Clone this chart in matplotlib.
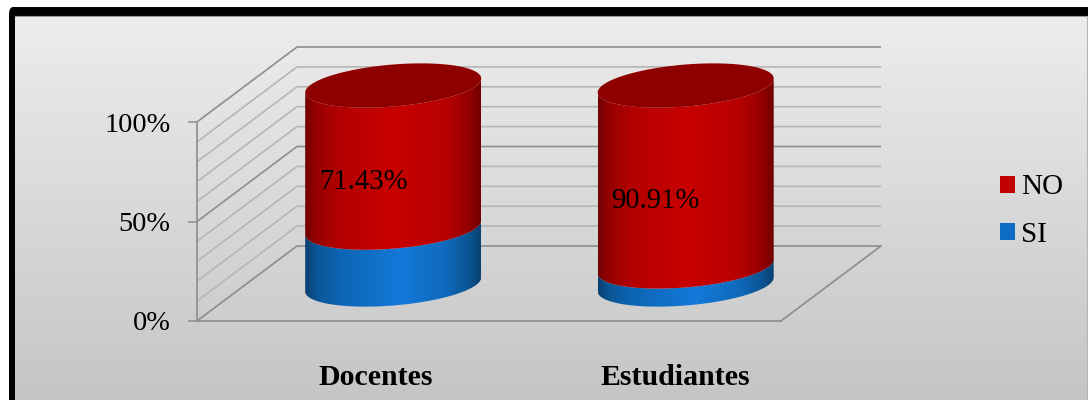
import numpy as np
import matplotlib
matplotlib.use("Agg")
import matplotlib.pyplot as plt
from matplotlib.colors import LinearSegmentedColormap
from matplotlib.patches import FancyBboxPatch, Patch, Polygon, Rectangle

categories = ["Docentes", "Estudiantes"]
si_values = [28.57, 9.09]
no_values = [71.43, 90.91]
no_labels = ["71.43%", "90.91%"]
value_ticks = [0, 50, 100]
value_tick_labels = ["0%", "50%", "100%"]
grid_values = [0, 10, 20, 30, 40, 50, 60, 70, 80, 90, 100]

# layout, in pixels of the 1088x400 picture
W, H = 1088, 400
Y0_PX, Y100_PX = 321, 122
PX = 100 / (Y0_PX - Y100_PX)  # value units per pixel
FRONT_L, FRONT_R = 197, 781
DEPTH_X, DEPTH_Y = 100, 75 * PX
BAR_CX = [393.2, 685.7]
BAR_A = 88
BAR_B = 21 * PX
BAR_SHEAR = 7 * PX
BAR_BASE = 36.5 * PX  # centre of the bottom ellipse above the zero line
LABEL_X = [376, 675]

RED = "#c00000"
BLUE = "#0d6cc4"
TOP_RED = "#8e0000"
red_cmap = LinearSegmentedColormap.from_list("r", [
    (0, "#700000"), (0.06, "#960000"), (0.2, "#b40000"), (0.5, "#c90000"),
    (0.8, "#b80000"), (0.93, "#940000"), (1, "#720000")])
blue_cmap = LinearSegmentedColormap.from_list("b", [
    (0, "#0a3f70"), (0.06, "#0b5594"), (0.2, "#0c66b4"), (0.55, "#1479da"),
    (0.8, "#0f6abc"), (0.93, "#0b5594"), (1, "#0a4272")])

plt.rcParams["font.family"] = ["Liberation Serif", "DejaVu Serif"]
fig = plt.figure(figsize=(W / 100, H / 100), dpi=100, facecolor="white")
ax = fig.add_axes([0, 0, 1, 1])
ax.patch.set_visible(False)
ylim = (-(H - Y0_PX) * PX, Y0_PX * PX)


def py(px):
    # picture row -> value scale
    return (Y0_PX - px) * PX


def ellipse(cx, level, t):
    return cx + BAR_A * np.cos(t), level + BAR_SHEAR * np.cos(t) + BAR_B * np.sin(t)


# frame and background
ax.add_patch(FancyBboxPatch((11, py(H + 20)), W + 20, py(11) - py(H + 20),
                            boxstyle="round,pad=2,rounding_size=4", fc="black", ec="none", zorder=0))
panel = Rectangle((15, py(H)), W - 16, py(15.5) - py(H), transform=ax.transData, fc="none", ec="none")
ax.add_patch(panel)
grad = np.linspace(0, 1, 256).reshape(-1, 1)
bg_cmap = LinearSegmentedColormap.from_list("bg", ["#ededed", "#c5c5c5"])
bg = ax.imshow(grad, cmap=bg_cmap, extent=(15, W - 1, py(H), py(15.5)), aspect="auto", zorder=0.5)
bg.set_clip_path(panel)
ax.plot([15, W - 1], [py(15.5)] * 2, color="#9a9a9a", lw=0.8, zorder=0.6)
ax.plot([W - 1, W - 1], [py(15.5), py(H)], color="#b5b5b5", lw=0.8, zorder=0.6)

# walls and floor
for v in grid_values:
    major = v in value_ticks
    color = "#8d8d8d" if major else "#b6b6b6"
    ax.plot([FRONT_L, FRONT_L + DEPTH_X, FRONT_R + DEPTH_X], [v, v + DEPTH_Y, v + DEPTH_Y],
            color=color, lw=1.2, zorder=1, solid_capstyle="butt")
ax.plot([FRONT_R, FRONT_R + DEPTH_X], [0, DEPTH_Y], color="#8d8d8d", lw=1.2, zorder=1)

# cylinders
t_low = np.linspace(np.pi, 2 * np.pi, 120)
t_all = np.linspace(0, 2 * np.pi, 240)
for i, cx in enumerate(BAR_CX):
    bottom = BAR_BASE
    for val, cmap in ((si_values[i], blue_cmap), (no_values[i], red_cmap)):
        top = bottom + val
        xa, ya = ellipse(cx, bottom, t_low)
        xb, yb = ellipse(cx, top, t_low[::-1])
        shape = Polygon(np.column_stack([np.r_[xa, xb], np.r_[ya, yb]]), fc="none", ec="none",
                        transform=ax.transData)
        ax.add_patch(shape)
        im = ax.imshow(np.linspace(0, 1, 256).reshape(1, -1), cmap=cmap,
                       extent=(cx - BAR_A, cx + BAR_A, bottom - 40, top + 40),
                       aspect="auto", zorder=3, interpolation="bilinear")
        im.set_clip_path(shape)
        bottom = top
    xt, yt = ellipse(cx, bottom, t_all)
    ax.fill(xt, yt, color=TOP_RED, lw=0, zorder=4)
    ax.text(cx - 30, BAR_BASE + si_values[i] + no_values[i] / 2 - 25 * PX,
            no_labels[i], fontsize=20.7, color="black", ha="center", va="center", zorder=5)

# axes
ax.set_xlim(0, W)
ax.set_ylim(*ylim)
for s in ("top", "right"):
    ax.spines[s].set_visible(False)
ax.spines["left"].set_position(("data", FRONT_L))
ax.spines["left"].set_bounds(0, 100)
ax.spines["bottom"].set_position(("data", 0))
ax.spines["bottom"].set_bounds(FRONT_L, FRONT_R)
for s in ("left", "bottom"):
    ax.spines[s].set_color("#8d8d8d")
    ax.spines[s].set_linewidth(1.2)
ax.set_yticks(value_ticks, value_tick_labels)
ax.tick_params(axis="y", length=6.5, width=1.1, color="#8d8d8d", pad=12.5, labelsize=20.4)
ax.set_xticks(LABEL_X, categories)
ax.tick_params(axis="x", length=0, pad=31, labelsize=21.5)
for lab in ax.get_xticklabels():
    lab.set_fontweight("bold")

leg = ax.legend(handles=[Patch(fc=RED, label="NO"), Patch(fc=BLUE, label="SI")],
                loc="center left", bbox_to_anchor=(1000 / W, 1 - 211 / H), frameon=False,
                fontsize=21, handlelength=0.51, handleheight=0.51, handletextpad=0.2,
                labelspacing=0.72, borderpad=0, borderaxespad=0)

fig.savefig("out.png", dpi=100, facecolor="white")
plt.close(fig)
